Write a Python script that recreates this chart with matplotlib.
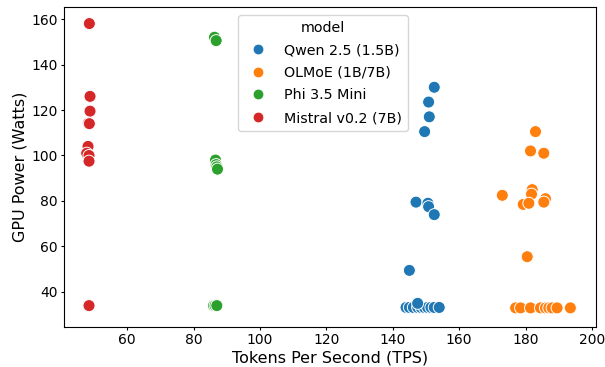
import matplotlib
matplotlib.use("Agg")
import matplotlib.pyplot as plt
import pandas as pd
import seaborn as sns

models = ["Qwen 2.5 (1.5B)", "OLMoE (1B/7B)", "Phi 3.5 Mini", "Mistral v0.2 (7B)"]

qwen_tps = [152.5, 150.8, 151.0, 149.6, 147.0, 150.6, 150.8, 152.5, 145.0,
            144.0, 145.0, 146.2, 147.5, 148.5, 149.5, 150.5, 151.5, 152.5, 154.0, 147.5]
qwen_w = [130.0, 123.5, 117.0, 110.5, 79.5, 79.0, 77.5, 74.0, 49.5,
          33.2, 33.2, 33.2, 33.2, 33.2, 33.2, 33.2, 33.2, 33.2, 33.2, 35.0]

olmoe_tps = [183.0, 181.5, 185.5, 173.0, 182.0, 181.8, 179.3, 181.0, 186.0, 185.5, 180.5,
             177.0, 178.5, 181.5, 184.5, 186.0, 187.0, 188.0, 189.5, 193.5]
olmoe_w = [110.5, 102.0, 101.0, 82.5, 85.0, 83.0, 78.5, 79.0, 81.0, 79.5, 55.5,
           33.0, 33.0, 33.0, 33.0, 33.0, 33.0, 33.0, 33.0, 33.0]

phi_tps = [86.3, 86.8, 86.6, 86.8, 87.0, 87.2, 86.0, 86.5, 87.0]
phi_w = [152.0, 150.5, 98.0, 96.0, 95.0, 94.0, 34.0, 34.0, 34.0]

mistral_tps = [48.6, 48.8, 48.8, 48.3, 48.6, 48.2, 47.8, 48.5, 48.5, 48.3, 48.5]
mistral_w = [158.0, 126.0, 119.5, 114.2, 114.0, 104.0, 101.0, 100.0, 97.5, 34.0, 34.0]

df = pd.DataFrame({
    "tps": qwen_tps + olmoe_tps + phi_tps + mistral_tps,
    "watts": qwen_w + olmoe_w + phi_w + mistral_w,
    "model": [models[0]] * len(qwen_tps) + [models[1]] * len(olmoe_tps)
             + [models[2]] * len(phi_tps) + [models[3]] * len(mistral_tps),
})

fig, ax = plt.subplots(figsize=(6.05, 3.67), dpi=100)
sns.scatterplot(data=df, x="tps", y="watts", hue="model", hue_order=models, s=75, ax=ax)

ax.set_xlabel("Tokens Per Second (TPS)", fontsize=11.5, labelpad=2)
ax.set_ylabel("GPU Power (Watts)", fontsize=11.5, labelpad=3)
ax.tick_params(labelsize=10, length=2.5, pad=2)
ax.set_xticks([60, 80, 100, 120, 140, 160, 180, 200])
ax.set_yticks([40, 60, 80, 100, 120, 140, 160])
ax.set_xlim(41, 201.2)
ax.set_ylim(24.6, 165.3)
leg = ax.legend(title="model", fontsize=10.3, title_fontsize=10.3, loc="upper left",
                bbox_to_anchor=(0.327, 0.975), borderaxespad=0, markerscale=0.9,
                labelspacing=0.6)

plt.subplots_adjust(left=0.106, right=0.985, top=0.981, bottom=0.109)
fig.savefig("out.png", dpi=100)
